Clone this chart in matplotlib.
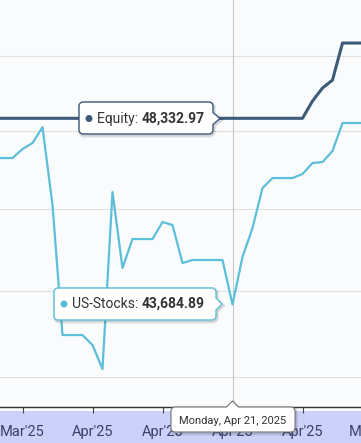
import numpy as np
import pandas as pd
import matplotlib
matplotlib.use("Agg")
import matplotlib.pyplot as plt
import matplotlib.dates as mdates
from matplotlib.patches import Polygon, Circle, Rectangle
from matplotlib.transforms import Affine2D, blended_transform_factory
from matplotlib.ticker import NullLocator, NullFormatter

plt.rcParams['font.family'] = ['Roboto', 'DejaVu Sans']

W, H = 361, 443

# daily values, Mar 28 .. May 5 2025
dates = pd.date_range("2025-03-28", "2025-05-05", freq="D")
us_stocks = [47301, 47301, 47301, 47533, 47688, 48100, 46109, 42965, 42965, 42965,
             42733, 42179, 46436, 44557, 45265, 45265, 45265, 45685, 45611, 44679,
             44752, 44752, 44752, 44752, 43684.89, 44825, 45536, 46537, 46790, 46790,
             46790, 46892, 47173, 47198, 47482, 48209, 48209, 48209, 48209]
equity = [48332.97] * 32 + [48789, 49134, 49348, 50350, 50350, 50350, 50350]
grid_values = [42000, 44000, 46000, 48000, 50000]

hover_date = pd.Timestamp("2025-04-21")
equity_label = "Equity"
us_label = "US-Stocks"

c_equity = "#3d5a78"
c_us = "#5bbfd9"
bg = "#fafbfd"
label_color = "#3b3f6e"

fig = plt.figure(figsize=(W / 100, H / 100), dpi=100, facecolor=bg)
ax = fig.add_axes([0, 1 - 407 / H, 1, 407 / H])
ax.set_facecolor(bg)

# pixel transform (y measured from top)
T = Affine2D().scale(1 / W, -1 / H).translate(0, 1) + fig.transFigure

ax.plot(dates, us_stocks, color=c_us, lw=1.6, zorder=3)
ax.plot(dates, equity, color=c_equity, lw=2.2, zorder=4)

ax.set_yscale("log")
ax.set_ylim(41318, 51541)
ax.set_yticks(grid_values)
ax.yaxis.set_minor_locator(NullLocator())
ax.yaxis.set_minor_formatter(NullFormatter())
ax.set_yticklabels([])
ax.tick_params(axis="y", length=0)
ax.grid(axis="y", color="#e0e0e0", lw=0.8)

d0 = mdates.date2num(hover_date)
ax.set_xlim(d0 - 23.25, d0 + 12.85)
ax.xaxis.set_major_locator(mdates.WeekdayLocator(byweekday=mdates.MO))
ax.xaxis.set_major_formatter(mdates.DateFormatter("%b'%y"))
ax.tick_params(axis="x", length=4, width=0.8, color="#444444", pad=9,
               labelsize=10.5, labelcolor=label_color)
for s in ["left", "right", "top"]:
    ax.spines[s].set_visible(False)
ax.spines["bottom"].set_color("#333333")
ax.spines["bottom"].set_linewidth(1.0)

# next weekly label, partly cut by the right edge
next_monday = pd.Timestamp("2025-05-05")
bt = blended_transform_factory(ax.transData, T)
ax.text(mdates.date2num(next_monday), 432, next_monday.strftime("%b'%y"),
        transform=bt, ha="center", va="center", fontsize=10.5,
        color=label_color, clip_on=False)

# crosshair
ax.axvline(d0, color="#c8c8c8", lw=0.8, zorder=2)

# navigator band under the axis
fig.add_artist(Rectangle((0, 411), W, 32, transform=T, facecolor="#ccd1f9",
                         edgecolor="none", zorder=-1))


def callout(x0, y0, x1, y1, side, tx, ty, r=4, half=6):
    pts = []

    def arc(cx, cy, a0, a1):
        for a in np.linspace(np.radians(a0), np.radians(a1), 6):
            pts.append((cx + r * np.cos(a), cy + r * np.sin(a)))

    arc(x0 + r, y0 + r, 180, 270)
    if side == "top":
        pts += [(tx - half, y0), (tx, ty), (tx + half, y0)]
    arc(x1 - r, y0 + r, 270, 360)
    if side == "right":
        pts += [(x1, ty - half), (tx, ty), (x1, ty + half)]
    arc(x1 - r, y1 - r, 0, 90)
    arc(x0 + r, y1 - r, 90, 180)
    return pts


def draw_box(pts, edge, lw=1.0):
    sh = [(x + 1, y + 1.5) for x, y in pts]
    fig.add_artist(Polygon(sh, closed=True, transform=T, facecolor="none",
                           edgecolor=(0, 0, 0, 0.07), lw=3, zorder=5))
    fig.add_artist(Polygon(sh, closed=True, transform=T, facecolor="none",
                           edgecolor=(0, 0, 0, 0.10), lw=1.5, zorder=5))
    fig.add_artist(Polygon(pts, closed=True, transform=T, facecolor="white",
                           edgecolor=edge, lw=lw, zorder=6))


renderer = fig.canvas.get_renderer()


def series_label(x, y, color, name, value):
    fig.add_artist(Circle((x, y), 2.8, transform=T, color=color, zorder=7))
    t1 = fig.text(x + 8, y, name + ": ", transform=T, fontsize=10,
                  color="#333333", va="center", ha="left", zorder=7)
    w = t1.get_window_extent(renderer).width
    fig.text(x + 8 + w, y, f"{value:,.2f}", transform=T, fontsize=10,
             fontweight="bold", color="#333333", va="center", ha="left", zorder=7)


# equity tooltip
draw_box(callout(79, 102, 213, 134, "right", 220, 118.5), c_equity)
series_label(89, 118.5, c_equity, equity_label, equity[24])

# us-stocks tooltip
draw_box(callout(54, 288, 216, 320, "right", 222, 304), c_us)
series_label(64, 304, c_us, us_label, us_stocks[24])

# date tooltip
draw_box(callout(171, 407, 295, 432, "top", 232.5, 401), "#777777", lw=0.8)
fig.text(233, 421.5, hover_date.strftime("%A, %b %d, %Y"), transform=T, fontsize=8,
         color="#333333", va="center", ha="center", zorder=7)

fig.savefig("out.png", dpi=100, facecolor=bg)
